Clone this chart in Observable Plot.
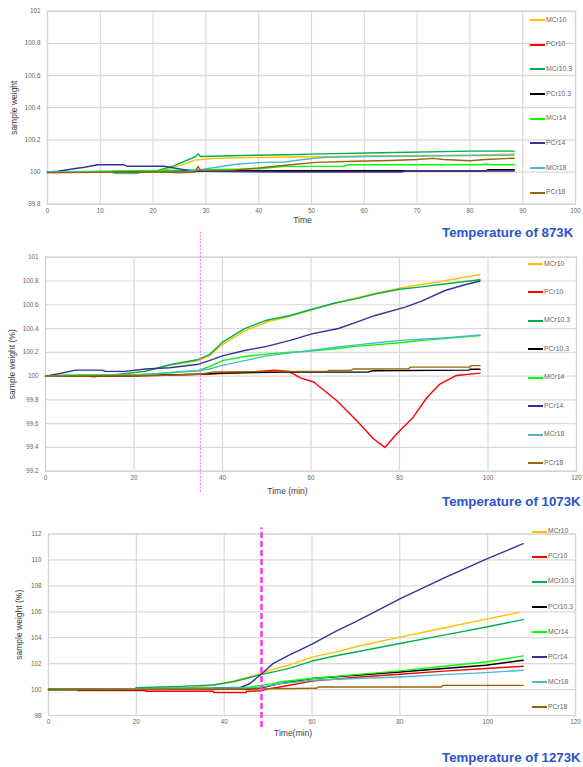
<!DOCTYPE html>
<html><head><meta charset="utf-8">
<script src="https://cdn.jsdelivr.net/npm/d3@7"></script>
<script src="https://cdn.jsdelivr.net/npm/@observablehq/plot@0.6"></script>
<style>
body{margin:0;background:#fff;font-family:"Liberation Sans",Arial,sans-serif;}
#root{position:relative;width:583px;height:767px;overflow:hidden;background:#fff;}
.panel{position:absolute;left:0;}
.cap{position:absolute;left:442px;font:bold 13.3px/1 "Liberation Sans",Arial,sans-serif;color:#2b54cc;white-space:nowrap;}
.leg{position:absolute;height:8px;font:6.8px/1 "Liberation Sans",Arial,sans-serif;color:#666;white-space:nowrap;display:flex;align-items:center;}
.leg i{display:inline-block;width:15px;height:2px;margin-right:1px;}
</style></head><body><div id="root"></div>
<script>
// ---------- series ----------
const seriesNames = ["MCr10","PCr10","MCr10.3","PCr10.3","MCr14","PCr14","MCr18","PCr18"];
const seriesColors = ["#ffc000","#ff0000","#00b050","#000000","#00ff00","#333399","#4fb8c8","#996600"];

// ---------- 873K : [time, weight] ----------
const k873_MCr10 = [[0,100],[18,100],[22,100.01],[25,100.04],[28,100.075],[32,100.085],[39,100.09],[52,100.095],[60,100.1],[80,100.105],[88.4,100.112]];
const k873_PCr10 = [[0,100],[20,100],[24,100.008],[88.4,100.008]];
const k873_MCr103 = [[0,100],[20,100],[24,100.04],[28,100.095],[28.5,100.113],[29,100.097],[37,100.103],[45,100.107],[52,100.113],[63,100.12],[80,100.13],[88.4,100.13]];
const k873_PCr103 = [[0,100],[30,100.005],[45,100.008],[83,100.008],[83.5,100.015],[88.4,100.015]];
const k873_MCr14 = [[0,100],[10,100.005],[22,100.01],[30,100.015],[40,100.02],[45,100.035],[56,100.036],[57,100.045],[82,100.045],[83,100.05],[84,100.045],[88.4,100.045]];
const k873_PCr14 = [[0,100],[2,100.005],[5,100.02],[7,100.03],[9.5,100.045],[14.5,100.045],[15,100.036],[22,100.036],[25,100.02],[27,100.008],[30,100.005],[45,100],[67,100],[68,100.008],[88.4,100.008]];
const k873_MCr18 = [[0,100],[12,100],[13,99.99],[17,99.99],[18,100],[26,100],[29,100.015],[32,100.03],[36,100.05],[41,100.06],[45,100.062],[48,100.076],[52,100.09],[60,100.097],[72,100.1],[80,100.103],[88.4,100.105]];
const k873_PCr18 = [[0,99.995],[15,100],[22,100],[25,99.995],[28,100],[28.5,100.035],[29,100.01],[35,100.012],[40,100.025],[45,100.042],[51,100.06],[58,100.067],[65,100.072],[70,100.078],[73,100.085],[75,100.078],[80,100.07],[83,100.078],[88.4,100.086]];

// ---------- 1073K ----------
const k1073_MCr10 = [[0,100],[10,100.005],[16,100.01],[22,100.04],[28,100.09],[34.6,100.13],[37,100.17],[40,100.265],[45,100.38],[50,100.455],[55,100.5],[60,100.555],[65.5,100.615],[70,100.655],[75,100.7],[80,100.74],[85,100.77],[90,100.8],[98.2,100.855]];
const k1073_PCr10 = [[0,100],[9,100],[11,99.995],[12,100],[20,100],[38,100.02],[45,100.03],[52,100.05],[55,100.04],[57.6,99.985],[60.6,99.95],[65.8,99.795],[70.3,99.627],[74.1,99.473],[76.7,99.4],[79.4,99.515],[83.1,99.654],[86.2,99.82],[89.2,99.935],[92.9,100.005],[98.2,100.025]];
const k1073_MCr103 = [[0,100],[15,100.01],[22.6,100.04],[28,100.095],[34.6,100.14],[37,100.18],[40,100.285],[45,100.4],[50,100.47],[55.3,100.51],[60,100.56],[65.5,100.615],[70,100.65],[75,100.695],[80,100.73],[85,100.75],[90,100.775],[98.2,100.81]];
const k1073_PCr103 = [[0,100],[20,100.005],[27,100.01],[35,100.015],[40,100.025],[55,100.033],[73,100.035],[74,100.045],[95.6,100.05],[96,100.058],[98.2,100.058]];
const k1073_MCr14 = [[0,100],[5,100.01],[20,100.01],[25,100.02],[30,100.035],[34.6,100.047],[37,100.08],[40,100.13],[45,100.165],[50,100.185],[55.3,100.2],[60,100.21],[65.5,100.23],[70,100.25],[75,100.265],[80.1,100.28],[85,100.3],[90,100.315],[98.2,100.34]];
const k1073_PCr14 = [[0,100],[3,100.02],[6.8,100.05],[12.8,100.05],[13.5,100.04],[18,100.04],[22.6,100.06],[28,100.07],[34.6,100.1],[37,100.13],[40,100.17],[45,100.215],[50,100.25],[55.3,100.3],[60.2,100.355],[66.2,100.4],[70,100.45],[74.5,100.51],[81.3,100.58],[85,100.63],[90.3,100.72],[95,100.77],[98.2,100.8]];
const k1073_MCr18 = [[0,100],[10,100.005],[20,100.01],[25,100.02],[30,100.035],[34.6,100.045],[37,100.06],[40,100.09],[45,100.13],[50,100.17],[55.3,100.195],[60,100.215],[65.5,100.243],[70,100.26],[75,100.28],[80.1,100.3],[85,100.31],[90,100.32],[98.2,100.345]];
const k1073_PCr18 = [[0,100],[25,100.005],[35,100.015],[38,100.035],[55,100.04],[63.7,100.04],[64,100.047],[69,100.047],[69.5,100.06],[82,100.062],[82.5,100.075],[95.8,100.075],[96.2,100.088],[98.2,100.088]];

// ---------- 1273K ----------
const k1273_MCr10 = [[0,100],[20,100.05],[28.4,100.12],[32,100.15],[37.5,100.33],[42,100.65],[45,100.9],[48.3,101.24],[51,101.55],[54.9,101.9],[60,102.5],[66,102.95],[70,103.3],[80,104.05],[90,104.75],[100,105.45],[107.2,105.95]];
const k1273_PCr10 = [[0,100],[6.5,100],[6.6,99.92],[22,99.92],[22.1,99.87],[37.5,99.87],[37.6,99.77],[45,99.77],[45.1,99.87],[48.5,99.9],[50,100.05],[52.7,100.2],[60,100.65],[70,100.95],[80,101.18],[90,101.42],[99.6,101.62],[108.1,101.8]];
const k1273_MCr103 = [[0,100],[19.5,100],[20,100.15],[25.4,100.2],[30,100.25],[37.5,100.35],[42,100.6],[45,100.85],[48.3,101.15],[51,101.35],[55,101.65],[60,102.2],[66,102.65],[70,102.9],[80,103.55],[90,104.2],[100,104.85],[108.1,105.4]];
const k1273_PCr103 = [[0,100],[45,100.02],[48,100.1],[52.7,100.46],[60,100.85],[70,101.1],[80,101.36],[90,101.62],[99.6,101.88],[108.1,102.26]];
const k1273_MCr14 = [[0,100],[20,100.05],[37,100.1],[46,100.2],[51,100.46],[52.7,100.6],[60,100.85],[70,101.15],[80,101.44],[90,101.8],[99.6,102.13],[108.1,102.6]];
const k1273_PCr14 = [[0,100],[37.5,100.1],[43.6,100.15],[45.8,100.45],[48.5,101.2],[51.1,102.0],[55,102.7],[57.2,103.05],[60,103.5],[65.5,104.5],[70,105.25],[80,107.0],[90,108.6],[99.8,110.08],[108.1,111.25]];
const k1273_MCr18 = [[0,100],[37.5,100.1],[48,100.15],[52.7,100.45],[60,100.72],[70,100.85],[80,100.97],[90,101.15],[99.6,101.31],[108.1,101.49]];
const k1273_PCr18 = [[0,100],[48,100.05],[61,100.1],[61.5,100.2],[89.4,100.2],[89.8,100.32],[108.1,100.32]];

// ---------- axes ----------
const xTicks873 = [0,10,20,30,40,50,60,70,80,90,100];
const yTicks873 = [99.8,100,100.2,100.4,100.6,100.8,101];
const xTicks1073 = [0,20,40,60,80,100,120];
const yTicks1073 = [99.2,99.4,99.6,99.8,100,100.2,100.4,100.6,100.8,101];
const xTicks1273 = [0,20,40,60,80,100,120];
const yTicks1273 = [98,100,102,104,106,108,110,112];
const markerTimes = {k1073: 35, k1273: 48.5};

const panels = [
  {data:[k873_MCr10,k873_PCr10,k873_MCr103,k873_PCr103,k873_MCr14,k873_PCr14,k873_MCr18,k873_PCr18],
   top:0, height:228, mt:10.7, mb:24.3, ml:47, mr:8, xDomain:[0,100], yDomain:[99.8,101],
   xTicks:xTicks873, yTicks:yTicks873, xlabel:"Time", ylabel:"sample weight",
   xlabDx:-9, xlabDy:18.7, ylabX:13.5, marker:null,
   legTop:20, legStep:24.67, legX:530, caption:"Temperature of 873K", capTop:226.3},
  {data:[k1073_MCr10,k1073_PCr10,k1073_MCr103,k1073_PCr103,k1073_MCr14,k1073_PCr14,k1073_MCr18,k1073_PCr18],
   top:228, height:270, mt:28.7, mb:27.3, ml:45, mr:7, xDomain:[0,120], yDomain:[99.2,101],
   xTicks:xTicks1073, yTicks:yTicks1073, xlabel:"Time (min)", ylabel:"sample weight (%)",
   xlabDx:-23.5, xlabDy:23, ylabX:11.5,
   marker:{t:markerTimes.k1073, y1:99.02, y2:101.21, stroke:"#ff66ff", width:1, dash:"2,1.5"},
   legTop:264, legStep:28.43, legX:528, caption:"Temperature of 1073K", capTop:495.2},
  {data:[k1273_MCr10,k1273_PCr10,k1273_MCr103,k1273_PCr103,k1273_MCr14,k1273_PCr14,k1273_MCr18,k1273_PCr18],
   top:505, height:240, mt:28.5, mb:30, ml:48, mr:8, xDomain:[0,120], yDomain:[98,112],
   xTicks:xTicks1273, yTicks:yTicks1273, xlabel:"Time(min)", ylabel:"sample weight (%)",
   xlabDx:-19, xlabDy:20.7, ylabX:18.5,
   marker:{t:markerTimes.k1273, y1:97.07, y2:112.46, stroke:"#ff33ee", width:2.5, dash:"6,3"},
   legTop:531.7, legStep:25.09, legX:532, caption:"Temperature of 1273K", capTop:750.8}
];

const root = document.getElementById("root");
const fmt = d => `${d}`;

for (const p of panels) {
  const rows = p.data.flatMap((pts,i) => pts.map(([t,v]) => ({name: seriesNames[i], t, v})));
  const marks = [
    Plot.gridX({ticks:p.xTicks, stroke:"#d9d9d9", strokeOpacity:1, strokeWidth:1.2}),
    Plot.gridY({ticks:p.yTicks, stroke:"#d9d9d9", strokeOpacity:1, strokeWidth:1.2}),
    Plot.frame({stroke:"#d4d4d4", strokeWidth:1.2}),
    Plot.axisX({ticks:p.xTicks, tickSize:0, tickPadding:4, tickFormat:fmt, label:null}),
    Plot.axisY({ticks:p.yTicks, tickSize:0, tickPadding:7, tickFormat:fmt, label:null}),
    Plot.line(rows, {x:"t", y:"v", z:"name", stroke:"name", strokeWidth:1.4})
  ];
  if (p.marker) {
    marks.push(Plot.ruleX([p.marker.t], {y1:p.marker.y1, y2:p.marker.y2, stroke:p.marker.stroke,
      strokeWidth:p.marker.width, strokeDasharray:p.marker.dash}));
  }
  marks.push(Plot.text([p.xlabel], {frameAnchor:"bottom", text:d=>d, dx:p.xlabDx, dy:p.xlabDy,
    fontSize:8.5, fill:"#404040"}));
  marks.push(Plot.text([p.ylabel], {frameAnchor:"left", text:d=>d, rotate:-90, dx:p.ylabX - p.ml,
    fontSize:8.5, fill:"#404040", textAnchor:"middle", lineAnchor:"middle"}));

  const svg = Plot.plot({
    width:583, height:p.height,
    marginTop:p.mt, marginBottom:p.mb, marginLeft:p.ml, marginRight:p.mr,
    x:{domain:p.xDomain}, y:{domain:p.yDomain},
    color:{domain:seriesNames, range:seriesColors},
    style:{fontFamily:"'Liberation Sans', Arial, sans-serif", fontSize:"6.3px", color:"#666", background:"transparent", overflow:"visible"},
    marks
  });
  const wrap = document.createElement("div");
  wrap.className = "panel";
  wrap.style.top = p.top + "px";
  wrap.appendChild(svg);
  root.appendChild(wrap);

  seriesNames.forEach((name,i) => {
    const d = document.createElement("div");
    d.className = "leg";
    d.style.left = p.legX + "px";
    d.style.top = (p.legTop + i*p.legStep - 4) + "px";
    const line = document.createElement("i");
    line.style.background = seriesColors[i];
    const s = document.createElement("span");
    s.textContent = name;
    d.appendChild(line); d.appendChild(s);
    root.appendChild(d);
  });

  const cap = document.createElement("div");
  cap.className = "cap";
  cap.style.top = p.capTop + "px";
  cap.textContent = p.caption;
  root.appendChild(cap);
}
</script></body></html>
